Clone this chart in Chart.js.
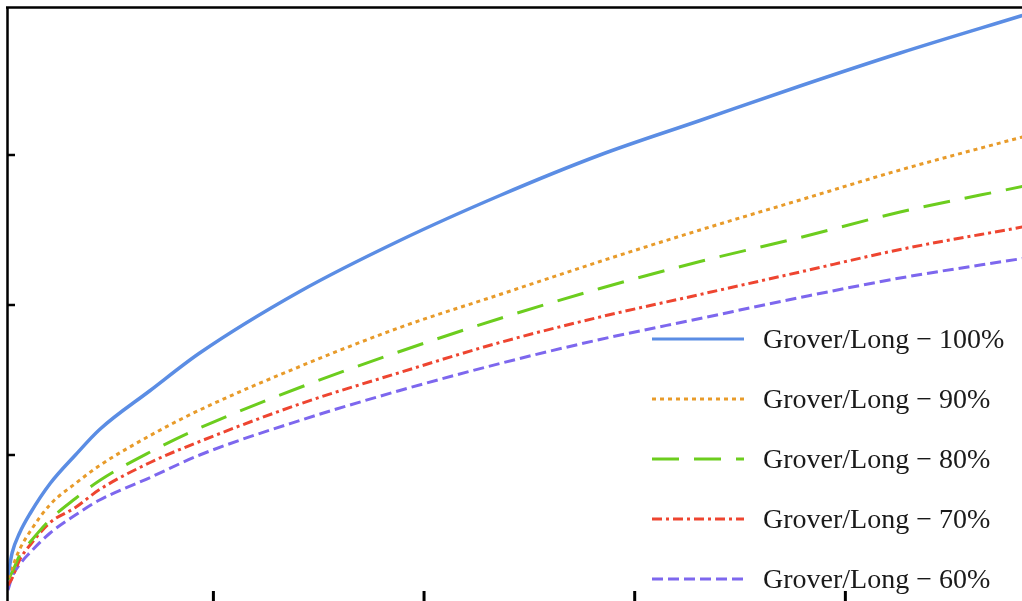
<!DOCTYPE html>
<html>
<head>
<meta charset="utf-8">
<script src="https://cdn.jsdelivr.net/npm/chart.js@4.4.1/dist/chart.umd.min.js"></script>
<style>
  html, body { margin: 0; padding: 0; background: #fff; overflow: hidden; }
  #wrap { position: relative; width: 1022px; height: 620px; }
</style>
</head>
<body>
<div id="wrap"><canvas id="c"></canvas></div>
<script>
// ---- data ----
const xValues = [0.5, 0.9, 1.6, 2.6, 4.5, 6.9, 9.2, 14.0, 18.7, 28.2, 37.7, 47.2, 56.7, 66.2, 75.7, 85.2, 96.8];
const grover100 = [0.20, 0.35, 0.48, 0.61, 0.81, 1.00, 1.17, 1.43, 1.68, 2.09, 2.43, 2.73, 3.00, 3.23, 3.46, 3.68, 3.93];
const grover90  = [0.18, 0.25, 0.37, 0.49, 0.67, 0.81, 0.93, 1.13, 1.30, 1.59, 1.85, 2.07, 2.29, 2.50, 2.70, 2.90, 3.12];
const grover80  = [0.17, 0.22, 0.33, 0.42, 0.57, 0.71, 0.83, 1.02, 1.18, 1.45, 1.69, 1.91, 2.11, 2.29, 2.45, 2.62, 2.79];
const grover70  = [0.13, 0.18, 0.30, 0.40, 0.55, 0.65, 0.77, 0.95, 1.09, 1.34, 1.55, 1.75, 1.92, 2.07, 2.22, 2.37, 2.52];
const grover60  = [0.10, 0.19, 0.27, 0.35, 0.48, 0.60, 0.70, 0.85, 1.00, 1.23, 1.43, 1.61, 1.77, 1.91, 2.05, 2.18, 2.31];
const seriesLabels = ['Grover/Long \u2212 100%', 'Grover/Long \u2212 90%', 'Grover/Long \u2212 80%', 'Grover/Long \u2212 70%', 'Grover/Long \u2212 60%'];
const xTicks = [20, 40, 60, 80];
const yTicks = [1, 2, 3];

const seriesValues = [grover100, grover90, grover80, grover70, grover60];
const colors = ['#5b8de4', '#e89b2a', '#6ccd1e', '#ee4530', '#7d67ee'];
const dashes = [[], [4, 4], [27, 15], [10, 4, 3, 4], [11, 5]];

const datasets = seriesValues.map((vals, i) => ({
  label: seriesLabels[i],
  data: xValues.map((x, j) => ({ x: x, y: vals[j] })),
  borderColor: colors[i],
  borderWidth: i === 0 ? 3.5 : 3,
  borderDash: dashes[i],
  pointRadius: 0,
  fill: false,
  cubicInterpolationMode: 'monotone'
}));

const frame = {
  id: 'frame',
  afterDatasetsDraw(chart) {
    const ctx = chart.ctx, a = chart.chartArea;
    const xs = chart.scales.x, ys = chart.scales.y;
    ctx.save();
    ctx.strokeStyle = '#000';
    ctx.setLineDash([]);
    // axis lines
    ctx.lineWidth = 2.5;
    ctx.beginPath();
    ctx.moveTo(a.left - 0.5, a.top - 1.5); ctx.lineTo(a.left - 0.5, a.bottom + 20);
    ctx.moveTo(a.left - 2, a.top - 0.5); ctx.lineTo(a.right + 5, a.top - 0.5);
    ctx.stroke();
    // inward ticks, y
    ctx.lineWidth = 2.5;
    yTicks.forEach(v => {
      const py = ys.getPixelForValue(v);
      ctx.beginPath(); ctx.moveTo(a.left, py); ctx.lineTo(a.left + 7, py); ctx.stroke();
    });
    // inward ticks, x
    ctx.lineWidth = 3;
    xTicks.forEach(v => {
      const px = xs.getPixelForValue(v);
      ctx.beginPath(); ctx.moveTo(px, a.bottom); ctx.lineTo(px, a.bottom - 14); ctx.stroke();
    });
    // legend
    ctx.font = '28px "Liberation Serif", "Times New Roman", serif';
    ctx.textBaseline = 'middle';
    ctx.textAlign = 'left';
    chart.data.datasets.forEach((ds, i) => {
      const y = 339 + i * 60;
      ctx.strokeStyle = ds.borderColor;
      ctx.lineWidth = 3;
      ctx.setLineDash(ds.borderDash);
      ctx.beginPath(); ctx.moveTo(652, y); ctx.lineTo(744, y); ctx.stroke();
      ctx.setLineDash([]);
      ctx.fillStyle = '#1a1a1a';
      ctx.fillText(ds.label, 763, y + 2);
    });
    ctx.restore();
  }
};

new Chart(document.getElementById('c'), {
  type: 'line',
  data: { datasets: datasets },
  options: {
    responsive: true,
    maintainAspectRatio: false,
    animation: false,
    layout: { padding: { left: 8, top: 8, right: 0, bottom: 15 } },
    plugins: { legend: { display: false }, tooltip: { enabled: false } },
    scales: {
      x: { type: 'linear', min: 0.5, max: 96.77, display: false },
      y: { type: 'linear', min: 0, max: 3.98, display: false }
    }
  },
  plugins: [frame]
});
</script>
</body>
</html>
